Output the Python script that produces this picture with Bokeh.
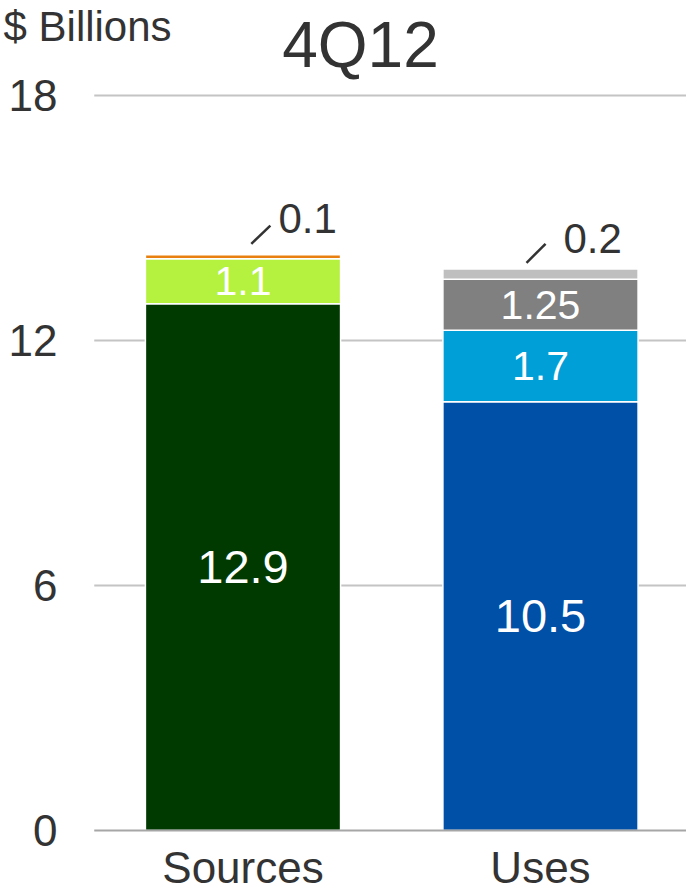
from bokeh.plotting import figure
from bokeh.models import Range1d, ColumnDataSource
from bokeh.core.properties import value
from bokeh.embed import file_html
from bokeh.resources import INLINE

# ---- data ----
categories = ["Sources", "Uses"]
sources_values = [12.9, 1.1, 0.1]
sources_labels = ["12.9", "1.1", "0.1"]
sources_colors = ["#003a00", "#b5f23f", "#e8800f"]
uses_values = [10.5, 1.75, 1.25, 0.25]
uses_labels = ["10.5", "1.7", "1.25", "0.2"]
uses_colors = ["#0050a8", "#009fd8", "#808080", "#bfbfbf"]
y_ticks = [0, 6, 12, 18]
y_tick_labels = ["0", "6", "12", "18"]
title_text = "4Q12"
unit_text = "$ Billions"

FONT = "Liberation Sans"
TEXT = "#333333"

cat_x = [i + 0.5 for i in range(len(categories))]   # category centres
n_cat = len(categories)

p = figure(width=686, height=896,
           x_range=Range1d(-0.3151, 1.9908), y_range=Range1d(-1.6163, 20.327),
           output_backend="svg", toolbar_location=None,
           x_axis_location=None, y_axis_location=None,
           min_border_left=0, min_border_right=0, min_border_top=0, min_border_bottom=0)
p.outline_line_color = None
p.background_fill_color = "white"
p.border_fill_color = "white"
p.xgrid.visible = False
p.ygrid.visible = False

# value grid lines, baseline and value-axis labels
grid_y = [t for t in y_ticks if t != 0]
p.segment(x0=[0] * len(grid_y), x1=[n_cat] * len(grid_y), y0=grid_y, y1=grid_y,
          line_color="#c4c4c4", line_width=2)
p.text(x=[-0.1235] * len(y_ticks), y=y_ticks, text=y_tick_labels,
       text_color=TEXT, text_align="right", text_baseline="middle",
       text_font=value(FONT), text_font_size="44px")

# stacked segments
rows = dict(x=[], bottom=[], top=[], mid=[], color=[], label=[], value=[])
for cx, vals, labs, cols in [(cat_x[0], sources_values, sources_labels, sources_colors),
                             (cat_x[1], uses_values, uses_labels, uses_colors)]:
    base = 0.0
    for v, l, c in zip(vals, labs, cols):
        rows["x"].append(cx)
        rows["bottom"].append(base)
        rows["top"].append(base + v)
        rows["mid"].append(base + v / 2)
        rows["color"].append(c)
        rows["label"].append(l)
        rows["value"].append(v)
        base += v

src = ColumnDataSource(rows)
p.vbar(x="x", bottom="bottom", top="top", width=0.656, fill_color="color",
       line_color="white", line_width=1.5, source=src)

# category axis line and labels
p.segment(x0=[0], x1=[n_cat], y0=[0], y1=[0], line_color="#a6a6a6", line_width=2)
p.text(x=cat_x, y=[-0.906] * n_cat, text=categories,
       text_color=TEXT, text_align="center", text_baseline="middle",
       text_font=value(FONT), text_font_size="44px")

def subset(pred):
    idx = [i for i, v in enumerate(rows["value"]) if pred(v)]
    return ColumnDataSource({k: [rows[k][i] for i in idx] for k in rows})

p.text(x="x", y="mid", text="label", source=subset(lambda v: v >= 5),
       text_color="white", text_align="center", text_baseline="middle",
       text_font=value(FONT), text_font_size="47px")
p.text(x="x", y="mid", text="label", source=subset(lambda v: 0.5 <= v < 5),
       text_color="white", text_align="center", text_baseline="middle",
       text_font=value(FONT), text_font_size="41px")

# outside labels with leader lines for the thin top segments
# (leader x0, x1, y0, y1, text x, text y) relative to bar centre / stack total
leader_style = [(0.028, 0.092, 0.268, 0.716, 0.119, 0.887),
                (-0.047, 0.017, 0.153, 0.618, 0.077, 0.747)]
for cx, vals, labs, st in [(cat_x[0], sources_values, sources_labels, leader_style[0]),
                           (cat_x[1], uses_values, uses_labels, leader_style[1])]:
    total = sum(vals)
    x0, x1, y0, y1, tx, ty = st
    p.segment(x0=[cx + x0], y0=[total + y0], x1=[cx + x1], y1=[total + y1],
              line_color=TEXT, line_width=2.5)
    p.text(x=[cx + tx], y=[total + ty], text=[labs[-1]],
           text_color=TEXT, text_align="left", text_baseline="middle",
           text_font=value(FONT), text_font_size="42px")

# title and unit caption
p.text(x=[0.895], y=[19.225], text=[title_text], text_color=TEXT,
       text_align="center", text_baseline="middle",
       text_font=value(FONT), text_font_size="64px")
p.text(x=[-0.305], y=[19.69], text=[unit_text], text_color=TEXT,
       text_align="left", text_baseline="middle",
       text_font=value(FONT), text_font_size="42px")

open("out.html", "w").write(file_html(p, INLINE))
